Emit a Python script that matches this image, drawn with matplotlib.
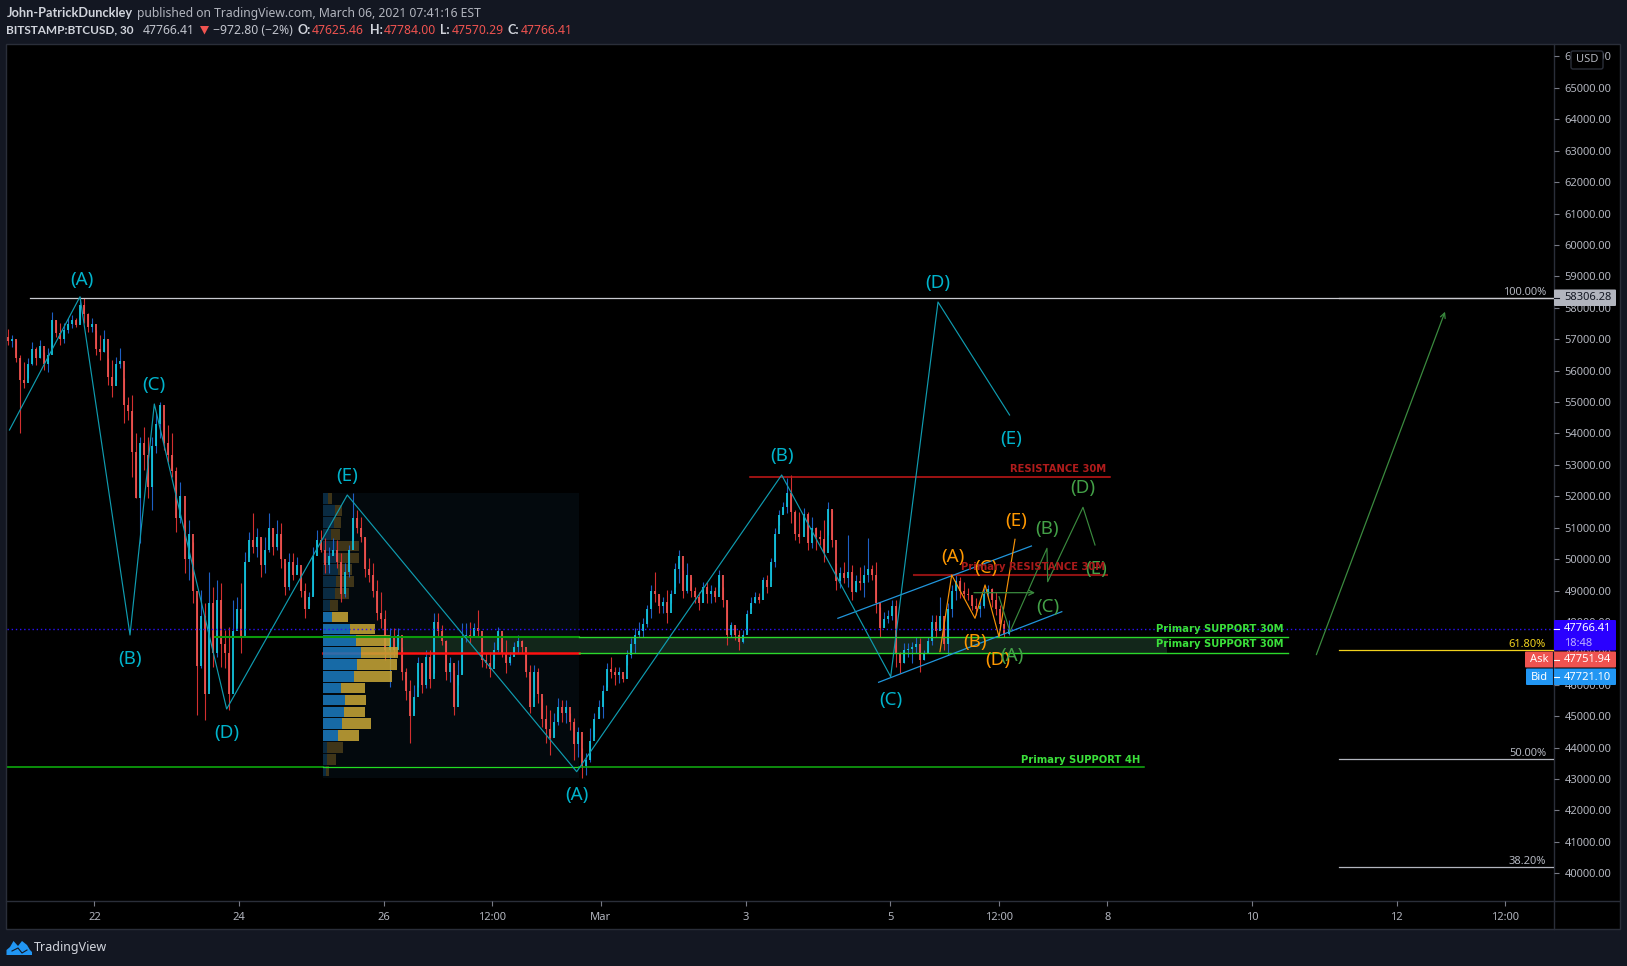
import numpy as np
import matplotlib
matplotlib.use('Agg')
import matplotlib.pyplot as plt
from matplotlib.patches import Rectangle, Polygon, FancyBboxPatch

# 80 minute bars, price in USD. opens are the previous close
bar_start_day = -1.2
bars_per_day = 18
highs = [
    57320, 57130, 56980, 56500, 56290, 56390, 56920, 56760, 56980, 56600,
    56710, 57880, 57610, 57510, 57510, 57660, 57770, 57660, 58350, 58300,
    57820, 57660, 57290, 57130, 57290, 56390, 56340, 56445, 56710, 55750,
    55170, 55225, 54005, 53900, 54217, 53900, 53900, 54640, 55010, 54430,
    54270, 54005, 52944, 52466, 51246, 51246, 50557, 48753, 49018, 48594,
    49600, 49124, 49336, 49230, 47745, 47851, 48700, 48806, 49230, 50238,
    50875, 51460, 50980, 50663, 50715,
    51457, 50980, 51245, 51139, 49865, 50184, 50184, 50078, 49441, 49229,
    48964, 50396, 50927, 50927, 50661, 50396, 50661, 50608, 50184, 49865,
    50449, 52094, 51563, 51351, 50661, 50025, 49865, 49335, 48964, 48380,
    47796, 47796, 47796, 47213, 46523, 46152, 45993, 46895, 46683, 47107,
    47107, 48274, 48274, 47903,
    47425, 46895, 46470, 46789, 47956, 47956, 48009, 47956, 48380, 47532,
    47001, 47054, 47373, 47850, 47638, 47425, 47054, 47373, 47585, 47425,
    47001, 46630, 46630, 46524, 45569, 45356, 45197, 45091, 45569, 45516,
    45516, 45091, 44932, 44667, 43977, 43818, 44614, 45091, 45516, 45993,
    46683, 46895, 46577, 46577, 46311,
    47107, 47479, 47797, 48009, 48116, 48540, 49177, 49601, 48858, 48805,
    49017, 49017, 49866, 50291, 49654, 49866, 49442, 49123, 48964, 49283,
    49283, 49177, 49123, 49654, 49123, 48699, 48009, 47850, 47744, 47744,
    48381, 48805, 48964, 48911, 49442, 49495, 50025, 50980, 51564, 51829,
    52572, 52678, 51564, 51511, 51617, 51511, 51352, 51033, 50927, 51245,
    51829, 51564, 49866, 49760, 49919,
    50769, 49814, 49495, 49761, 49814, 50662, 49814, 49920, 48487, 48328,
    48381, 48700, 48700, 47055, 47320, 47320, 47373, 47533, 47480, 47108,
    47533, 48222, 48222, 48806, 47904, 48594, 49177, 49495, 49442, 49283,
    49071, 48806, 48753, 48700, 49071, 49177, 49071, 48965, 48540, 48063,
    48063,
]
lows = [
    56820, 56760, 56290, 54010, 55440, 55750, 56180, 56180, 56390, 56020,
    55970, 56710, 57080, 56820, 56870, 57190, 57350, 57400, 57510, 57510,
    57240, 57240, 56500, 56340, 56600, 55540, 55170, 55700, 56070, 54320,
    54430, 52625, 51936, 50500, 52840, 51936, 51564, 53370, 53850, 53470,
    53100, 52625, 50875, 51140, 49550, 49336, 48594, 45040, 46525, 44880,
    45835, 46578, 46896, 46578, 46525, 45198, 47533, 47957, 47002, 48381,
    50079, 50185, 50079, 49442, 49549,
    50237, 50131, 50290, 49706, 48858, 49017, 49335, 49547, 48804, 48115,
    48539, 48858, 50343, 50237, 49547, 49547, 50131, 49706, 48645, 48804,
    49441, 50608, 50820, 50555, 49441, 49282, 48804, 48062, 47796, 46789,
    45940, 46895, 47266, 46152, 45515, 44136, 45091, 45940, 45727, 45887,
    45887, 46364, 47531, 47266,
    46152, 46099, 45038, 45993, 46364, 47373, 47319, 47532, 47532, 46577,
    46524, 46258, 46789, 47054, 46895, 46364, 46630, 46948, 47001, 47001,
    46258, 45091, 45622, 45410, 44667, 44136, 43765, 44349, 44720, 44826,
    44773, 44561, 43606, 43712, 43022, 43128, 43553, 44349, 44932, 44932,
    45940, 46205, 45993, 46046, 46099,
    46630, 46842, 47001, 47532, 47532, 47850, 48116, 48646, 48275, 48275,
    47956, 48593, 49123, 49230, 48752, 48911, 48805, 48593, 48381, 48646,
    48593, 48593, 48646, 49123, 48487, 47267, 47532, 47426, 47107, 47320,
    47691, 48434, 48593, 48593, 49070, 48911, 49336, 49760, 51086, 51458,
    51458, 51139, 50609, 50503, 51192, 50291, 50344, 50291, 50450, 49919,
    50768, 50397, 49017, 49070, 49230,
    49124, 48700, 48965, 49018, 48806, 49283, 49336, 48275, 47533, 47851,
    47957, 48063, 46578, 46365, 46684, 46896, 46684, 47002, 46418, 46790,
    47002, 47267, 47533, 48063, 47108, 46949, 48169, 48700, 48753, 48753,
    48700, 48381, 48222, 48169, 48434, 48806, 48487, 48222, 47745, 47533,
    47570,
]
closes = [
    56950, 57000, 56400, 55700, 55600, 56200, 56700, 56400, 56800, 56200,
    56500, 57600, 57200, 57000, 57300, 57500, 57600, 57450, 58100, 57800,
    57400, 57500, 56700, 56600, 57000, 55800, 55500, 56200, 56300, 54900,
    54700, 53400, 51950, 53700, 53300, 52300, 53600, 54300, 54900, 53700,
    53300, 52800, 51300, 52000, 50000, 50800, 49000, 46600, 48200, 45700,
    48600, 47000, 48700, 47300, 47000, 45700, 47700, 48400, 47500, 49900,
    50600, 50400, 50700, 49800, 50300,
    51000, 50400, 50800, 50000, 49100, 49900, 49500, 49800, 49000, 48400,
    48800, 50100, 50600, 50300, 49800, 50100, 50300, 49900, 48900, 49600,
    50300, 51300, 51000, 50700, 49700, 49500, 49000, 48300, 48100, 47100,
    47500, 47100, 47600, 46400, 45800, 45000, 45600, 46700, 46000, 46900,
    46200, 48000, 47700, 47400,
    46400, 46700, 45300, 46300, 47500, 47600, 47500, 47800, 47700, 46800,
    46700, 46500, 47100, 47700, 47000, 46700, 46900, 47200, 47400, 47200,
    46400, 45300, 46400, 45700, 44900, 44600, 44300, 44800, 45300, 45100,
    45300, 44800, 44100, 44500, 43400, 43600, 44200, 44900, 45300, 45800,
    46500, 46400, 46300, 46400, 46200,
    46950, 47300, 47600, 47700, 47950, 48400, 49000, 48900, 48500, 48650,
    48300, 48900, 49700, 50100, 49000, 49500, 49000, 48800, 48600, 49100,
    48900, 49000, 48800, 49500, 48700, 47600, 47900, 47600, 47350, 47600,
    48250, 48600, 48800, 48700, 49350, 49100, 49900, 50800, 51400, 51650,
    52100, 51500, 50800, 50700, 51450, 50500, 51000, 50700, 50650, 50200,
    51600, 50600, 49300, 49550, 49400,
    49600, 48950, 49300, 49250, 49500, 49700, 49500, 48600, 47800, 48100,
    48200, 48500, 47000, 46700, 47100, 47150, 47200, 47300, 46800, 47000,
    47400, 48000, 47700, 48200, 47300, 48400, 49000, 49300, 49000, 48900,
    48850, 48500, 48400, 48500, 48900, 49050, 48700, 48400, 47950, 47625,
    47766,
]

# drawn elliott waves, day 0 is Feb 22
cyan_days = [-1.175, -0.2, 0.491, 0.827, 1.827, 3.494, 6.665, 9.498, 11.005, 11.659, 12.648]
cyan_prices = [54110, 58353, 47585, 54938, 45230, 52041, 43234, 52678, 46258, 58184, 54588]
cyan_labels = ['(A)', '(B)', '(C)', '(D)', '(E)', '(A)', '(B)', '(C)', '(D)', '(E)']
orange_days = [11.686, 11.848, 12.17, 12.309, 12.502, 12.723]
orange_prices = [47054, 49495, 48117, 49177, 47531, 50631]
orange_labels = ['(A)', '(B)', '(C)', '(D)', '(E)']
green_days = [12.502, 12.654, 13.165, 13.175, 13.663, 13.829]
green_prices = [48804, 47690, 50345, 49282, 51650, 50450]
green_labels = ['(A)', '(B)', '(C)', '(D)', '(E)']

channel_top_days = [10.275, 12.95]
channel_top_prices = [48117, 50418]
channel_low_days = [10.838, 13.37]
channel_low_prices = [46080, 48327]

# visible range volume profile, rows from top to bottom
vp_top = 52095
vp_bottom = 43046
vp_start_day, vp_end_day = 3.164, 6.7
vp_up = [4.6, 11.5, 10.3, 7.3, 12.6, 13.4, 14.9, 12.6, 11.5, 6.5, 8.8, 26.8,
         32.5, 37.5, 33.7, 30.6, 17.6, 21.8, 20.7, 18.8, 14.5, 3.8, 3.8, 2.7]
vp_total = [8.8, 18.8, 17.6, 16.8, 35.2, 35.2, 28.7, 30.6, 25.6, 14.5, 24.5, 51.7,
            66.6, 74.6, 73.5, 68.5, 41.7, 42.5, 41.7, 47.8, 35.6, 19.5, 12.6, 5.7]
vp_first_bright, vp_last_bright = 10, 20
poc_price = 47025

zone_top, zone_low = 47512, 47003
support_4h = 43384
resistance_30m = 52624
resistance_primary = 49504
last_price = 47766.41
ask_price = 47751.94
bid_price = 47721.10

fib_levels = [58306.28, 47096, 43629, 40190]
fib_labels = ['100.00%', '61.80%', '50.00%', '38.20%']

tick_days = [0, 2, 4, 5.5, 7, 9, 11, 12.5, 14, 16, 18, 19.5]
tick_labels = ['22', '24', '26', '12:00', 'Mar', '3', '5', '12:00', '8', '10', '12', '12:00']
price_ticks = np.arange(40000, 67000, 1000)

W, H = 1627, 966
BG = '#131722'
BORDER = '#2a2e39'
AXTEXT = '#b2b5be'
plt.rcParams['font.family'] = ['Noto Sans', 'DejaVu Sans']

fig = plt.figure(figsize=(W / 100, H / 100), dpi=100, facecolor=BG)

# page furniture is laid out in pixels
back = fig.add_axes([0, 0, 1, 1], zorder=0)
back.set_xlim(0, W)
back.set_ylim(H, 0)
back.axis('off')
back.add_patch(Rectangle((6.5, 43.5), 1613.5, 885.5, fc='black', ec=BORDER, lw=1))
back.plot([1554, 1554], [43.5, 929], color=BORDER, lw=1)
back.plot([6.5, 1620], [901, 901], color=BORDER, lw=1)

ax = fig.add_axes([6.5 / W, 1 - 901 / H, (1554 - 6.5) / W, (901 - 43.5) / H], zorder=1)
ax.patch.set_alpha(0)
ax.set_xlim(-1.216, 20.173)
ax.set_ylim(39118, 66413)
for s in ax.spines.values():
    s.set_visible(False)
ax.yaxis.tick_right()
ax.set_yticks(price_ticks, ['{0:.2f}'.format(p) for p in price_ticks])
ax.set_xticks(tick_days, tick_labels)
ax.tick_params(axis='both', length=3.6, width=0.8, color='#787b86', labelcolor=AXTEXT, labelsize=8)
ax.tick_params(axis='y', pad=4)
ax.tick_params(axis='x', pad=4)

# volume profile background
ax.add_patch(Rectangle((vp_start_day, vp_bottom), vp_end_day - vp_start_day, vp_top - vp_bottom,
                       fc='#03090d', ec='none', zorder=0.5))
ax.add_patch(Rectangle((4.0, zone_low), 14.82 - 4.0, zone_top - zone_low, fc='#12261a', ec='none', zorder=0.6))

edges = np.linspace(vp_top, vp_bottom, len(vp_up) + 1)
row_h = (vp_top - vp_bottom) / len(vp_up) * 0.9
px_per_day = 72.35
for i in range(len(vp_up)):
    bright = vp_first_bright <= i <= vp_last_bright
    z = 3 if bright else 1
    y = edges[i] - row_h
    up = vp_up[i] / px_per_day
    down = (vp_total[i] - vp_up[i]) / px_per_day
    ax.barh(y, up, height=row_h, left=vp_start_day, align='edge', zorder=z,
            color='#1a78bc' if bright else '#0a2b42', alpha=0.88 if bright else 1)
    ax.barh(y, down, height=row_h, left=vp_start_day + up, align='edge', zorder=z,
            color='#c4a335' if bright else '#3f3518', alpha=0.88 if bright else 1)

# candles
closes = np.array(closes, dtype=float)
highs = np.array(highs, dtype=float)
lows = np.array(lows, dtype=float)
opens = np.r_[closes[0] + 130, closes[:-1]]
xs = bar_start_day + np.arange(len(closes)) / bars_per_day
rising = closes >= opens
ax.vlines(xs, lows, highs, colors=np.where(rising, '#1e5fc4', '#d32f2f'), lw=0.8, zorder=2)
ax.vlines(xs, np.minimum(opens, closes), np.maximum(opens, closes),
          colors=np.where(rising, '#12c4dc', '#ef5350'), lw=1.3, zorder=2.1)

# horizontal levels
ax.plot([-0.891, 20.173], [fib_levels[0]] * 2, color='#c9cad0', lw=0.9, zorder=4)
ax.plot([1.66, 6.7], [zone_top] * 2, color='#0b9a0b', lw=1.5, zorder=4)
ax.plot([6.7, 16.49], [zone_top] * 2, color='#2bd82b', lw=1, zorder=4)
ax.plot([6.7, 16.49], [zone_low] * 2, color='#2bd82b', lw=1, zorder=4)
ax.plot([vp_start_day, vp_end_day], [poc_price] * 2, color='#ff1010', lw=1.8, zorder=2.5)
ax.plot([-1.216, 3.164], [support_4h] * 2, color='#0c9a0c', lw=1.3, zorder=4)
ax.plot([3.164, 6.7], [support_4h] * 2, color='#22dd22', lw=0.9, zorder=4)
ax.plot([6.7, 14.5], [support_4h] * 2, color='#12b012', lw=1.1, zorder=4)
ax.plot([9.06, 14.04], [resistance_30m] * 2, color='#c81818', lw=1.1, zorder=4)
ax.plot([11.33, 13.99], [resistance_primary] * 2, color='#8f1212', lw=1.5, zorder=4)
ax.plot([-1.216, 20.173], [last_price] * 2, color='#2a10ff', lw=1, ls=(0, (1, 2)), zorder=4)

for lev, col in zip(fib_levels, ['#c9cad0', '#f2d21e', AXTEXT, AXTEXT]):
    ax.plot([17.2, 20.173], [lev, lev], color=col, lw=0.9, zorder=4)
for lev, lab, col in zip(fib_levels, fib_labels, [AXTEXT, '#f2d21e', AXTEXT, AXTEXT]):
    ax.annotate(lab, (20.173, lev), xytext=(-8, 0), textcoords='offset pixels', ha='right', va='bottom',
                color=col, fontsize=8, zorder=6)

# channel
ax.plot(channel_top_days, channel_top_prices, color='#2196dc', lw=0.9, zorder=5)
ax.plot(channel_low_days, channel_low_prices, color='#2196dc', lw=0.9, zorder=5)

# waves
ax.plot(cyan_days, cyan_prices, color='#0f9cb0', lw=0.85, zorder=5)
ax.plot(orange_days, orange_prices, color='#f79208', lw=0.85, zorder=5)
ax.plot(green_days, green_prices, color='#3a8a3e', lw=0.85, zorder=5)

cyan_off = [(2, 17), (0, -24), (0, 19), (0, -24.5), (0, 19), (0, -23), (0, 18.5), (0, -23), (0, 19), (2, -24)]
orange_off = [(1, 18), (0, -24), (1, 17), (-1, -23), (1, 18)]
green_off = [(2, -24), (0, 19), (0, -25), (0, 19), (1, -24)]
for days, prices, labs, offs, col in [
        (cyan_days, cyan_prices, cyan_labels, cyan_off, '#00b4cc'),
        (orange_days, orange_prices, orange_labels, orange_off, '#ff9800'),
        (green_days, green_prices, green_labels, green_off, '#43a047')]:
    for d, p, lab, off in zip(days[1:], prices[1:], labs, offs):
        ax.annotate(lab, (d, p), xytext=off, textcoords='offset pixels', ha='center', va='center',
                    color=col, fontsize=13.5, zorder=7)

# green forecast arrows
ax.annotate('', xy=(13.0, 48932), xytext=(12.156, 48932), zorder=5,
            arrowprops=dict(arrowstyle='->', color='#3a8a3e', lw=0.9, mutation_scale=9, shrinkA=0, shrinkB=0))
ax.annotate('', xy=(18.667, 57876), xytext=(16.888, 46958), zorder=5,
            arrowprops=dict(arrowstyle='->', color='#3a8a3e', lw=0.9, mutation_scale=9, shrinkA=0, shrinkB=0))

# level captions
cap = dict(family='DejaVu Sans', fontweight='bold', fontsize=7.2, va='center', ha='right', zorder=7)
ax.annotate('Primary SUPPORT 30M', (16.43, zone_top), xytext=(0, 8), textcoords='offset pixels', color='#3be03b', **cap)
ax.annotate('Primary SUPPORT 30M', (16.43, zone_low), xytext=(0, 9), textcoords='offset pixels', color='#3be03b', **cap)
ax.annotate('Primary SUPPORT 4H', (14.45, support_4h), xytext=(0, 7), textcoords='offset pixels', color='#3be03b', **cap)
ax.annotate('RESISTANCE 30M', (13.98, resistance_30m), xytext=(0, 8), textcoords='offset pixels', color='#b01c1c', **cap)
ax.annotate('Primary RESISTANCE 30M', (13.97, resistance_primary), xytext=(0, 8), textcoords='offset pixels', color='#a81a1a', **cap)

# things drawn over the price scale
over = fig.add_axes([0, 0, 1, 1], zorder=5)
over.set_xlim(0, W)
over.set_ylim(H, 0)
over.axis('off')
over.patch.set_alpha(0)


def price_tag(x0, y0, x1, y1, color):
    over.add_patch(FancyBboxPatch((x0 + 1, y0 + 1), x1 - x0 - 2, y1 - y0 - 2, boxstyle='round,pad=1',
                                  fc=color, ec='none'))


tag_text = dict(fontsize=8, ha='left', va='center')
price_tag(1554, 289.5, 1616, 306, AXTEXT)
over.text(1564, 298, '{0:.2f}'.format(fib_levels[0]), color=BG, **tag_text)
over.plot([1554, 1559], [297.5, 297.5], color=BG, lw=0.8)

price_tag(1554, 620, 1616, 650.5, '#2a00ff')
over.text(1564, 628.5, '{0:.2f}'.format(last_price), color='white', **tag_text)
over.text(1564, 643, '18:48', color='#bcb0ff', **tag_text)
over.plot([1554, 1559], [628.5, 628.5], color='white', lw=0.8)

price_tag(1525, 651.5, 1616, 667.5, '#ef5350')
over.text(1539, 660, 'Ask', color='white', fontsize=8, ha='center', va='center')
over.text(1564, 660, '{0:.2f}'.format(ask_price), color='white', **tag_text)
over.plot([1554, 1559], [659.5, 659.5], color='white', lw=0.8)

price_tag(1526, 668.5, 1616, 685, '#2196f3')
over.text(1539, 677, 'Bid', color='white', fontsize=8, ha='center', va='center')
over.text(1564, 677, '{0:.2f}'.format(bid_price), color='white', **tag_text)
over.plot([1554, 1559], [676.5, 676.5], color='white', lw=0.8)
over.plot([1553, 1553], [651.5, 685], color=BG, lw=0.8)

over.add_patch(FancyBboxPatch((1573, 53), 28, 14, boxstyle='round,pad=2', fc='black', ec=BORDER, lw=1))
over.text(1587, 60, 'USD', color=AXTEXT, fontsize=8, ha='center', va='center')

# header
hdr = dict(fontsize=8.75, va='center', ha='left')
bold = dict(family='Lato', fontweight='bold', va='center', ha='left')
over.text(6.5, 13, 'John-PatrickDunckley', color='#d1d4dc', fontsize=9.2, **bold)
over.text(137.5, 13, 'published on TradingView.com, March 06, 2021 07:41:16 EST', color='#b2b5be', **hdr)
over.text(6.5, 30, 'BITSTAMP:BTCUSD, 30', color='#d1d4dc', fontsize=8.5, **bold)
over.text(142.7, 30, '47766.41', color='#c2c5ce', **hdr)
over.add_patch(Polygon([(200, 26), (209, 26), (204.5, 34.5)], fc='#ef5350', ec='none'))
over.text(213, 30, '\u2212972.80 (\u22122%)', color='#c2c5ce', **hdr)
for lab, lx, val, vx in [('O:', 298, '47625.46', 312), ('H:', 370, '47784.00', 383.5),
                         ('L:', 440.5, '47570.29', 451.6), ('C:', 508, '47766.41', 520.5)]:
    over.text(lx, 30, lab, color='#d1d4dc', fontsize=9, **bold)
    over.text(vx, 30, val, color='#ef5350', **hdr)

# footer logo
over.add_patch(Polygon([(6.5, 955), (6.5, 950), (10, 947), (13.5, 941), (18, 946), (22, 941), (27, 945),
                        (30, 950), (32, 952), (32, 955)], fc='#2196f3', ec='none'))
over.plot([12, 18, 22, 27], [951, 948, 953, 950], color=BG, lw=0.8)
over.text(34, 948, 'TradingView', color='#d1d4dc', fontsize=9, ha='left', va='center')

fig.savefig('out.png', dpi=100, facecolor=BG)
